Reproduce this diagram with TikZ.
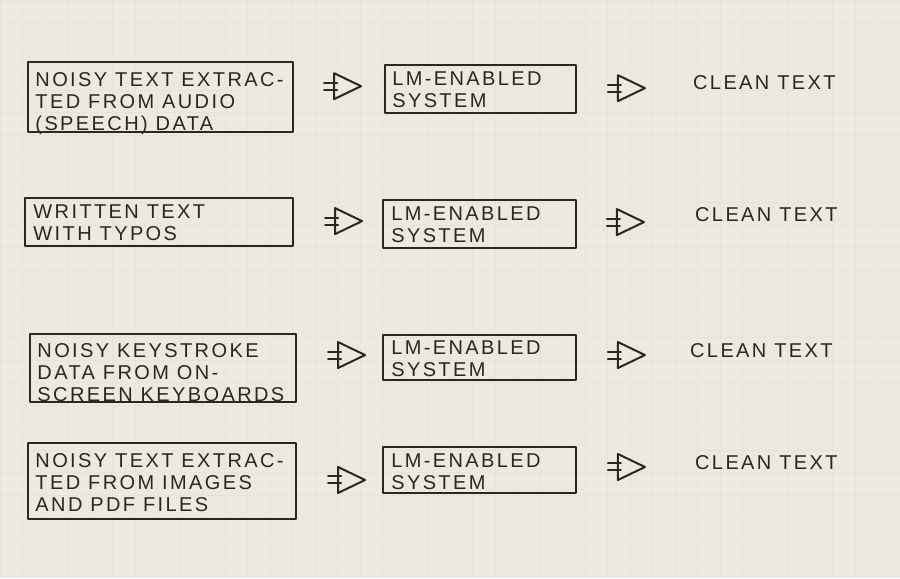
\documentclass[tikz,border=0pt]{standalone}
\usepackage{fontspec}
\setmainfont{Liberation Sans}[LetterSpace=12]
\usetikzlibrary{fit,calc}
\definecolor{paper}{HTML}{ECE9E1}
\definecolor{gridc}{HTML}{E6E3DA}
\definecolor{ink}{HTML}{2B2622}
\tikzset{
  inkline/.style={draw=ink, line width=1.5pt, line join=round, line cap=round},
  box/.style={inkline, inner sep=0pt, rectangle},
  txt/.style={inner sep=0pt, align=left, text=ink, font=\fontsize{15}{16.5}\selectfont},
  fatarrow/.pic={
    \draw[inkline] (0,-13) -- (27,0) -- (0,13) -- cycle;
    \draw[inkline] (-10,-3.5) -- (3,-3.5) (-10,3.5) -- (3,3.5);
  }
}
\begin{document}
\begin{tikzpicture}[x=0.75pt,y=-0.75pt]
\fill[paper] (0,0) rectangle (900,578);
\draw[gridc, line width=0.3pt, step=16.875pt] (0,0) grid (900,578);
\useasboundingbox (0,0) rectangle (900,578);

% Row 1
\node[box, fit={(28,62)(293,132)}] (l1) {};
\node[txt, anchor=north west] (l1t) at (35,72) {NOISY TEXT EXTRAC-\\TED FROM AUDIO\\(SPEECH) DATA};
\node[box, fit={(385,65)(576,113)}] (m1) {};
\node[txt, anchor=north west] (m1t) at (392,71) {LM-ENABLED\\SYSTEM};
\node[txt, anchor=west] (c1) at (693,82) {CLEAN TEXT};
\coordinate (a1l) at (334,86);
\coordinate (a1r) at (618,88);
\pic at (a1l) {fatarrow};
\pic at (a1r) {fatarrow};

% Row 2
\node[box, fit={(25,198)(293,246)}] (l2) {};
\node[txt, anchor=north west] (l2t) at (33,204) {WRITTEN TEXT\\WITH TYPOS};
\node[box, fit={(383,200)(576,248)}] (m2) {};
\node[txt, anchor=north west] (m2t) at (391,206) {LM-ENABLED\\SYSTEM};
\node[txt, anchor=west] (c2) at (695,215) {CLEAN TEXT};
\coordinate (a2l) at (335,221);
\coordinate (a2r) at (617,222);
\pic at (a2l) {fatarrow};
\pic at (a2r) {fatarrow};

% Row 3
\node[box, fit={(30,334)(296,402)}] (l3) {};
\node[txt, anchor=north west] (l3t) at (37,343) {NOISY KEYSTROKE\\DATA FROM ON-\\SCREEN KEYBOARDS};
\node[box, fit={(383,335)(576,380)}] (m3) {};
\node[txt, anchor=north west] (m3t) at (391,340) {LM-ENABLED\\SYSTEM};
\node[txt, anchor=west] (c3) at (690,351) {CLEAN TEXT};
\coordinate (a3l) at (338,355);
\coordinate (a3r) at (618,355);
\pic at (a3l) {fatarrow};
\pic at (a3r) {fatarrow};

% Row 4
\node[box, fit={(28,443)(296,519)}] (l4) {};
\node[txt, anchor=north west] (l4t) at (35,453) {NOISY TEXT EXTRAC-\\TED FROM IMAGES\\AND PDF FILES};
\node[box, fit={(383,447)(576,493)}] (m4) {};
\node[txt, anchor=north west] (m4t) at (391,453) {LM-ENABLED\\SYSTEM};
\node[txt, anchor=west] (c4) at (695,463) {CLEAN TEXT};
\coordinate (a4l) at (338,480);
\coordinate (a4r) at (618,467);
\pic at (a4l) {fatarrow};
\pic at (a4r) {fatarrow};
\end{tikzpicture}
\end{document}
